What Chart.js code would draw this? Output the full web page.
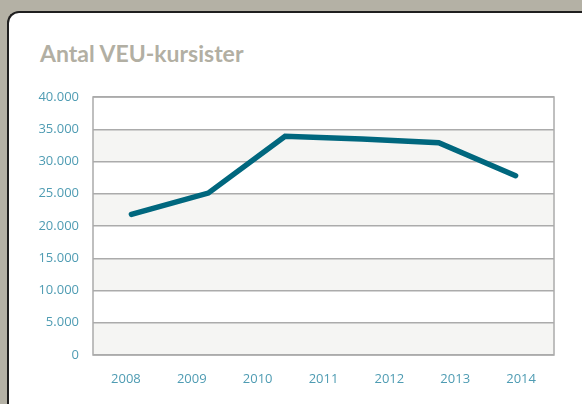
<!DOCTYPE html>
<html>
<head>
<meta charset="utf-8">
<script src="https://cdn.jsdelivr.net/npm/chart.js@4"></script>
<style>
  html, body { margin: 0; padding: 0; }
  body { width: 582px; height: 404px; background: #b4b1a5; position: relative; overflow: hidden; }
  #card {
    position: absolute; left: 7px; top: 11px; width: 620px; height: 440px;
    background: #fff; border-left: 2px solid #1f1f1f; border-top: 2px solid #1f1f1f;
    border-top-left-radius: 12px;
  }
  #title {
    position: absolute; left: 40px; top: 42px; margin: 0;
    font: 700 23px/23px Lato, sans-serif; color: #b2afa3; white-space: nowrap;
  }
  #chart { position: absolute; left: 0; top: 0; }
</style>
</head>
<body>
<div id="card"></div>
<div id="title">Antal VEU-kursister</div>
<canvas id="chart" width="582" height="404"></canvas>
<script>
const years = ['2008', '2009', '2010', '2011', '2012', '2013', '2014'];
// the line in the picture has only six points, spread over its own six slots
const values = [21800, 25100, 33900, 33500, 32900, 27800];
const pointLabels = years.slice(0, values.length);
const yTicks = [0, 5000, 10000, 15000, 20000, 25000, 30000, 35000, 40000];

const tickColor = '#4f9cb3';
const gridColor = '#ababab';
const bandColor = '#f5f5f3';

function formatNumber(v) {
  return String(v).replace(/\B(?=(\d{3})+(?!\d))/g, '.');
}

// alternating bands and frame of the plot area
const bandsPlugin = {
  id: 'bands',
  beforeDraw(chart) {
    const { ctx, chartArea } = chart;
    const y = chart.scales.y;
    ctx.save();
    ctx.fillStyle = bandColor;
    for (let i = 0; i < yTicks.length - 1; i += 2) {
      const top = y.getPixelForValue(yTicks[i + 1]);
      const bottom = y.getPixelForValue(yTicks[i]);
      ctx.fillRect(chartArea.left, top, chartArea.right - chartArea.left, bottom - top);
    }
    ctx.restore();
  },
  beforeDatasetsDraw(chart) {
    const { ctx, chartArea } = chart;
    ctx.save();
    ctx.strokeStyle = gridColor;
    ctx.lineWidth = 1.5;
    ctx.strokeRect(chartArea.left, chartArea.top, chartArea.right - chartArea.left, chartArea.bottom - chartArea.top);
    ctx.restore();
  }
};

new Chart(document.getElementById('chart').getContext('2d'), {
  type: 'line',
  data: {
    labels: years,
    datasets: [{
      label: 'Antal VEU-kursister',
      data: values,
      xAxisID: 'xData',
      borderColor: '#00677e',
      borderWidth: 5.5,
      borderCapStyle: 'round',
      borderJoinStyle: 'miter',
      pointRadius: 0,
      tension: 0,
      fill: false
    }]
  },
  options: {
    responsive: false,
    animation: false,
    layout: { padding: { top: 97, right: 28, bottom: 9, left: 0 } },
    plugins: { legend: { display: false }, tooltip: { enabled: false } },
    scales: {
      x: {
        type: 'category',
        offset: true,
        grid: { display: false },
        border: { display: false },
        ticks: { color: tickColor, font: { family: 'Open Sans', size: 13 }, padding: 8, maxRotation: 0 },
        afterFit(scale) { scale.height = 40; }
      },
      xData: {
        type: 'category',
        labels: pointLabels,
        offset: true,
        display: false
      },
      y: {
        min: 0,
        max: 40000,
        afterBuildTicks(scale) { scale.ticks = yTicks.map(v => ({ value: v })); },
        grid: { color: gridColor, lineWidth: 1.5, drawTicks: false },
        border: { display: false },
        ticks: {
          color: tickColor,
          font: { family: 'Open Sans', size: 13 },
          padding: 14,
          callback: v => formatNumber(v)
        },
        afterFit(scale) { scale.width = 93; }
      }
    }
  },
  plugins: [bandsPlugin]
});
</script>
</body>
</html>
